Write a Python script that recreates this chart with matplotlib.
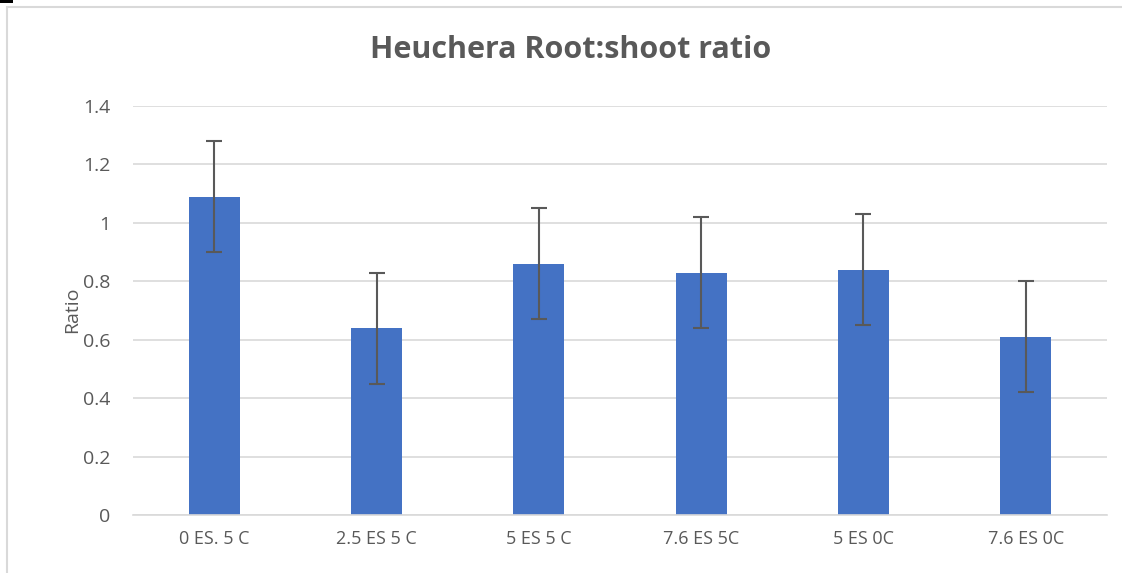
import matplotlib.pyplot as plt
from matplotlib.patches import Rectangle

categories = ["0 ES. 5 C", "2.5 ES 5 C", "5 ES 5 C", "7.6 ES 5C", "5 ES 0C", "7.6 ES 0C"]
ratio = [1.09, 0.64, 0.86, 0.83, 0.84, 0.61]
err = [0.19, 0.19, 0.19, 0.19, 0.19, 0.19]
yticks = [0, 0.2, 0.4, 0.6, 0.8, 1.0, 1.2, 1.4]
ytick_labels = ["0", "0.2", "0.4", "0.6", "0.8", "1", "1.2", "1.4"]

W, H = 1122, 573
fig = plt.figure(figsize=(W / 100, H / 100), dpi=100)
plt.rcParams['font.family'] = ['Open Sans', 'DejaVu Sans']

# chart border (Excel style), extends past right/bottom edges
fig.patches.append(Rectangle((7 / W, -0.1), 1.2, 1 - 7 / H + 0.1, transform=fig.transFigure,
                             fill=False, edgecolor="#d9d9d9", lw=1.5))
fig.patches.append(Rectangle((0, 1 - 2.5 / H), 13 / W, 2.5 / H, transform=fig.transFigure,
                             facecolor="black", edgecolor="none"))

ax = fig.add_axes([133 / W, 1 - 515 / H, (1107 - 133) / W, (515 - 106) / H])
x = range(len(categories))
ax.bar(x, ratio, width=0.315, color="#4472c4", zorder=2)
ax.errorbar(x, ratio, yerr=err, fmt="none", ecolor="#595959", elinewidth=1.5,
            capsize=6, capthick=1.5, zorder=3)

ax.set_xlim(-0.5, 5.5)
ax.set_ylim(0, 1.4)
ax.set_yticks(yticks)
ax.set_yticklabels(ytick_labels)
ax.set_xticks(list(x))
ax.set_xticklabels(categories)
ax.tick_params(axis="both", length=0, labelcolor="#595959")
ax.tick_params(axis="y", pad=16.5, labelsize=14)
ax.tick_params(axis="x", pad=11, labelsize=13)
ax.grid(axis="y", color="#d9d9d9", lw=1.2, zorder=0)
for s in ["top", "right", "left"]:
    ax.spines[s].set_visible(False)
ax.spines["bottom"].set_color("#d9d9d9")
ax.spines["bottom"].set_linewidth(1.2)

ax.set_ylabel("Ratio", fontsize=14, color="#595959", va="center")
ax.yaxis.set_label_coords((72 - 133) / (1107 - 133), (515 - 310) / (515 - 106))

fig.text(571 / W, 1 - 50 / H, "Heuchera Root:shoot ratio", ha="center", va="center",
         fontsize=22, fontweight="bold", color="#595959")

fig.savefig("out.png", dpi=100)
